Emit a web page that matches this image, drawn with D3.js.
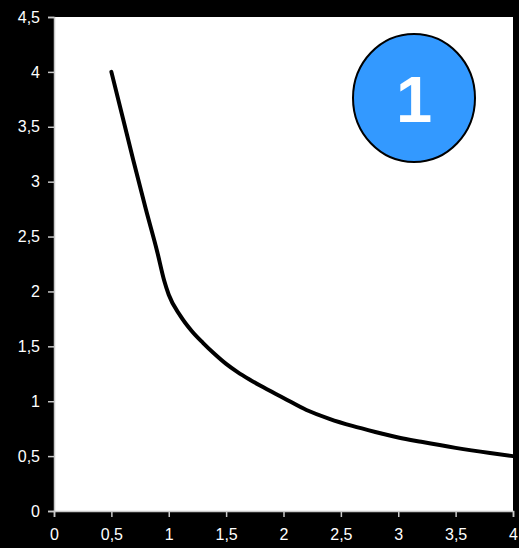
<!DOCTYPE html>
<html>
<head>
<meta charset="utf-8">
<script src="https://cdn.jsdelivr.net/npm/d3@7"></script>
<style>
  html, body { margin: 0; padding: 0; background: #000; }
  svg { display: block; }
  .tick text { font-family: "Liberation Sans", Arial, sans-serif; font-size: 16px; fill: #fff; }
</style>
</head>
<body>
<svg id="chart" width="519" height="548"></svg>
<script>
// Curve values
const xValues = [0.5, 0.6, 0.69, 0.8, 0.9, 0.96, 1.0, 1.1, 1.2, 1.3, 1.4, 1.5, 1.6, 1.7, 1.8, 2.0, 2.2, 2.4, 2.6, 2.8, 3.0, 3.2, 3.5, 3.8, 4.0];
const yValues = [4.0, 3.58, 3.2, 2.75, 2.36, 2.1, 1.97, 1.78, 1.64, 1.53, 1.43, 1.34, 1.265, 1.2, 1.14, 1.03, 0.92, 0.84, 0.775, 0.72, 0.67, 0.63, 0.575, 0.528, 0.5];
const xTicks = [0, 0.5, 1, 1.5, 2, 2.5, 3, 3.5, 4];
const yTicks = [0, 0.5, 1, 1.5, 2, 2.5, 3, 3.5, 4, 4.5];
const badgeLabel = "1";

const fmt = v => String(v).replace(".", ",");

const svg = d3.select("#chart");
const plot = { left: 54, top: 17, right: 513, bottom: 511 };

const x = d3.scaleLinear().domain([0, 4]).range([plot.left, plot.right]);
const y = d3.scaleLinear().domain([0, 4.5]).range([plot.bottom, plot.top]);

// white plot area
svg.append("rect")
    .attr("x", plot.left).attr("y", plot.top)
    .attr("width", plot.right - plot.left).attr("height", plot.bottom - plot.top)
    .attr("fill", "#fff");

// axes
const xAxis = svg.append("g")
    .attr("transform", `translate(0,${plot.bottom})`)
    .call(d3.axisBottom(x).tickValues(xTicks).tickFormat(fmt).tickSize(6).tickPadding(12));
const yAxis = svg.append("g")
    .attr("transform", `translate(${plot.left},0)`)
    .call(d3.axisLeft(y).tickValues(yTicks).tickFormat(fmt).tickSize(6).tickPadding(8));

[xAxis, yAxis].forEach(g => {
    g.select(".domain").attr("stroke", "#c8c8c8").attr("stroke-width", 1.5);
    g.selectAll(".tick line").attr("stroke", "#c8c8c8").attr("stroke-width", 1.5);
});

// curve
const pts = xValues.map((v, i) => [v, yValues[i]]);
svg.append("path")
    .datum(pts)
    .attr("fill", "none")
    .attr("stroke", "#000")
    .attr("stroke-width", 4)
    .attr("stroke-linejoin", "round")
    .attr("stroke-linecap", "round")
    .attr("d", d3.line().x(d => x(d[0])).y(d => y(d[1])).curve(d3.curveMonotoneX));

// numbered badge
const badge = svg.append("g").attr("transform", "translate(414,98)");
badge.append("ellipse")
    .attr("rx", 61).attr("ry", 64)
    .attr("fill", "#3399ff")
    .attr("stroke", "#000")
    .attr("stroke-width", 2);
badge.append("text")
    .attr("text-anchor", "middle")
    .attr("y", 24)
    .attr("font-family", "Liberation Sans, Arial, sans-serif")
    .attr("font-weight", "bold")
    .attr("font-size", 65)
    .attr("fill", "#fff")
    .text(badgeLabel);
</script>
</body>
</html>
